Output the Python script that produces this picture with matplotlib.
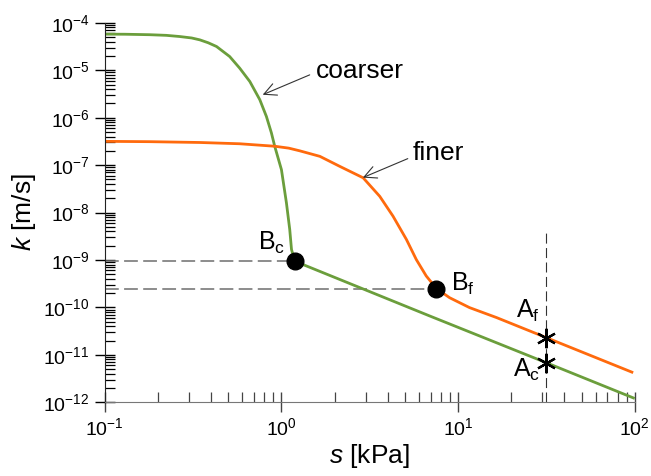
import numpy as np
import matplotlib.pyplot as plt

plt.rcParams['font.family'] = ['Liberation Sans', 'DejaVu Sans']
plt.rcParams['mathtext.fontset'] = 'custom'
plt.rcParams['mathtext.rm'] = 'Liberation Sans'
plt.rcParams['mathtext.it'] = 'Liberation Sans:italic'
plt.rcParams['axes.unicode_minus'] = False

# coarser soil (green)
s_coarse = [0.1, 0.13, 0.18, 0.223, 0.265, 0.31, 0.345, 0.385, 0.429, 0.509, 0.58, 0.662,
            0.754, 0.822, 0.877, 0.916, 1.0, 1.067, 1.114, 1.14, 1.19, 6.9, 31.6, 100]
k_coarse = [5.78e-5, 5.75e-5, 5.62e-5, 5.45e-5, 5.15e-5, 4.8e-5, 4.38e-5, 3.8e-5, 3.17e-5,
            1.95e-5, 1.11e-5, 5.8e-6, 2.4e-6, 1.06e-6, 4.8e-7, 2.5e-7, 8.0e-8, 1.6e-8,
            4.4e-9, 1.66e-9, 9.4e-10, 6.6e-11, 6.8e-12, 1.2e-12]

# finer soil (orange)
s_fine = [0.1, 0.18, 0.345, 0.58, 0.916, 1.1, 1.27, 1.65, 2.14, 2.9, 3.6, 4.28, 5.1, 5.8,
          6.6, 7.54, 8.95, 11.6, 16.5, 31.6, 98]
k_fine = [3.17e-7, 3.12e-7, 3.0e-7, 2.82e-7, 2.5e-7, 2.28e-7, 2.0e-7, 1.53e-7, 9.4e-8,
          5.4e-8, 2.2e-8, 8.4e-9, 2.7e-9, 1.02e-9, 4.6e-10, 2.5e-10, 1.6e-10, 9.9e-11,
          6.1e-11, 2.3e-11, 4.2e-12]

# points B (kinks) and A (at s = 31.6)
B_s = [1.19, 7.54]
B_k = [9.4e-10, 2.5e-10]
A_s = [31.6, 31.6]
A_k = [2.3e-11, 6.8e-12]

green = '#6b9e3c'
orange = '#ff6a0d'

fig = plt.figure(figsize=(6.51, 4.76), dpi=100)
ax = fig.add_axes([0.161, 0.155, 0.814, 0.797])

# dashed guide lines
ax.plot([0.1, B_s[0]], [B_k[0], B_k[0]], ls=(0, (9, 3.5)), color='#6e6e6e', lw=1.1)
ax.plot([0.1, B_s[1]], [B_k[1], B_k[1]], ls=(0, (9, 3.5)), color='#6e6e6e', lw=1.1)
ax.plot([A_s[0], A_s[0]], [1e-12, 4.3e-9], ls=(0, (9, 4)), color='#333333', lw=0.8)

ax.plot(s_coarse, k_coarse, color=green, lw=2.0, solid_capstyle='butt')
ax.plot(s_fine, k_fine, color=orange, lw=2.0, solid_capstyle='butt')

ax.plot(B_s, B_k, 'o', color='black', ms=12, zorder=5)
ax.plot(A_s, A_k, ls='none', marker=(6, 2, 0), color='black', ms=14, mew=1.6, zorder=5)

ax.set_xscale('log')
ax.set_yscale('log')
ax.set_xlim(0.1, 100)
ax.set_ylim(1e-12, 1e-4)

ax.spines['top'].set_visible(False)
ax.spines['right'].set_visible(False)
ax.spines['left'].set_color('#222222')
ax.spines['bottom'].set_color('#777777')

ax.tick_params(which='major', direction='inout', length=14, width=1, labelsize=14, pad=4)
ax.tick_params(which='minor', direction='in', length=7, width=0.9)
ax.tick_params(axis='x', which='both', color='#444444')
ax.yaxis.set_major_locator(plt.LogLocator(base=10, numticks=20))
ax.yaxis.set_minor_locator(plt.LogLocator(base=10, subs=np.arange(2, 10), numticks=20))
ax.yaxis.set_minor_formatter(plt.NullFormatter())
ax.xaxis.set_minor_formatter(plt.NullFormatter())

ax.set_xlabel(r'$\it{s}$ [kPa]', fontsize=19, labelpad=2)
ax.set_ylabel(r'$\it{k}$ [m/s]', fontsize=19, labelpad=4)

# annotations
arrow = dict(arrowstyle='->', color='#333333', lw=0.8, shrinkA=0, shrinkB=0, mutation_scale=22)
ax.annotate('', xy=(0.783, 3.05e-6), xytext=(1.445, 8.0e-6), arrowprops=arrow)
ax.text(1.56, 9.8e-6, 'coarser', fontsize=19, ha='left', va='center')
ax.annotate('', xy=(2.89, 5.45e-8), xytext=(5.19, 1.37e-7), arrowprops=arrow)
ax.text(5.53, 1.83e-7, 'finer', fontsize=19, ha='left', va='center')

ax.text(1.044, 1.66e-9, r'B$_\mathrm{c}$', fontsize=18, ha='right', va='baseline')
ax.text(9.17, 2.2e-10, r'B$_\mathrm{f}$', fontsize=18, ha='left', va='baseline')
ax.text(29.0, 5.9e-11, r'A$_\mathrm{f}$', fontsize=18, ha='right', va='baseline')
ax.text(29.0, 3.5e-12, r'A$_\mathrm{c}$', fontsize=18, ha='right', va='baseline')

fig.savefig('out.png', dpi=100)
